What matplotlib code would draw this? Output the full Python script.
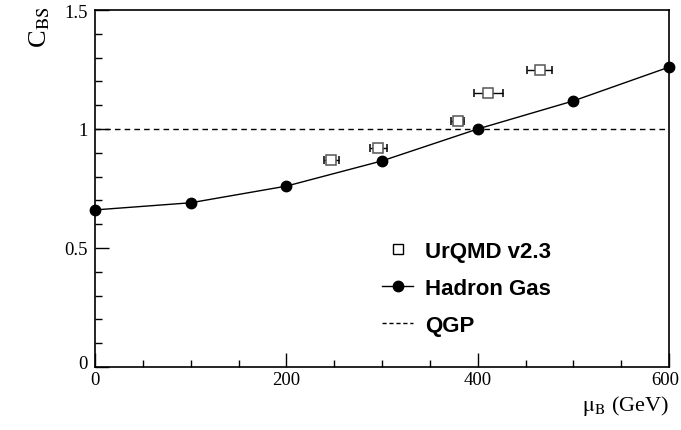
import numpy as np
import matplotlib
matplotlib.use("Agg")
import matplotlib.pyplot as plt
import matplotlib.transforms as mtransforms
from matplotlib.lines import Line2D
from matplotlib.ticker import MultipleLocator

# Hadron gas curve: C_BS vs baryon chemical potential
mu_hg = [0, 100, 200, 300, 400, 500, 600]
cbs_hg = [0.66, 0.69, 0.76, 0.866, 1.0, 1.118, 1.26]

# UrQMD v2.3 points with horizontal errors
mu_urqmd = [247, 296, 379, 411, 465]
mu_urqmd_err = [8, 9, 7, 15, 13]
cbs_urqmd = [0.87, 0.92, 1.034, 1.151, 1.248]

# QGP expectation
cbs_qgp = 1.0

serif = ["Liberation Serif", "DejaVu Serif"]
sans = ["Liberation Sans", "DejaVu Sans"]

fig = plt.figure(figsize=(6.81, 4.31), dpi=100)
ax = fig.add_axes([95 / 681, 1 - 368 / 431, 574 / 681, 357 / 431])

ax.axhline(cbs_qgp, color="black", lw=1.0, ls=(0, (4, 3)))
ax.plot(mu_hg, cbs_hg, color="black", lw=1.0, marker="o", ms=7.5,
        clip_on=False, zorder=4)
ax.errorbar(mu_urqmd, cbs_urqmd, xerr=mu_urqmd_err, fmt="s", ms=7.5,
            mfc="white", mec="#555555", mew=1.1, ecolor="black",
            elinewidth=1.0, capsize=3, capthick=1.0, zorder=5)

ax.set_xlim(0, 600)
ax.set_ylim(0, 1.5)
ax.xaxis.set_minor_locator(MultipleLocator(50))
ax.yaxis.set_minor_locator(MultipleLocator(0.1))
ax.set_xticks([0, 200, 400, 600])
ax.set_xticklabels(["0", "200", "400", "600"])
ax.set_yticks([0, 0.5, 1.0, 1.5])
ax.set_yticklabels(["0", "0.5", "1", "1.5"])
ax.tick_params(which="both", direction="in", top=False, right=False,
               width=1.0, labelsize=13.5)
ax.tick_params(which="major", length=10)
ax.tick_params(which="minor", length=5)
ax.tick_params(axis="y", pad=5)
ax.tick_params(axis="x", pad=3)
for lab in ax.get_xticklabels() + ax.get_yticklabels():
    lab.set_fontfamily(serif)
for sp in ax.spines.values():
    sp.set_linewidth(1.2)

# nudge the last x label and the y origin label so they stay inside the frame
xlabs = ax.get_xticklabels()
xlabs[-1].set_transform(xlabs[-1].get_transform() +
                        mtransforms.ScaledTranslation(-4 / 100, 0, fig.dpi_scale_trans))
ylabs = ax.get_yticklabels()
ylabs[0].set_transform(ylabs[0].get_transform() +
                       mtransforms.ScaledTranslation(0, 5 / 100, fig.dpi_scale_trans))

fig.text(40 / 681, 1 - 7 / 431, r"C$_{\mathrm{BS}}$", rotation=90,
         ha="center", va="top", fontsize=19, family=serif,
         math_fontfamily="stix")
fig.text(669 / 681, 1 - 411 / 431, r"$\mathrm{μ}_{\mathrm{B}}$ (GeV)",
         ha="right", va="baseline", fontsize=16, family=serif,
         math_fontfamily="stix")

handles = [
    Line2D([], [], ls="none", marker="s", ms=7.5, mfc="white", mec="black",
           mew=1.0),
    Line2D([], [], color="black", lw=1.0, marker="o", ms=7.5),
    Line2D([], [], color="black", lw=1.0, ls=(0, (3, 2))),
]
labels = ["UrQMD v2.3", "Hadron Gas", "QGP"]
leg = fig.legend(handles, labels, loc="upper left",
                 bbox_to_anchor=(382 / 681, 1 - 242 / 431),
                 frameon=False, borderpad=0, borderaxespad=0,
                 handlelength=1.4, handletextpad=0.55, labelspacing=0.72,
                 prop={"family": sans, "weight": "bold", "size": 16})

fig.savefig("out.png", dpi=100)
